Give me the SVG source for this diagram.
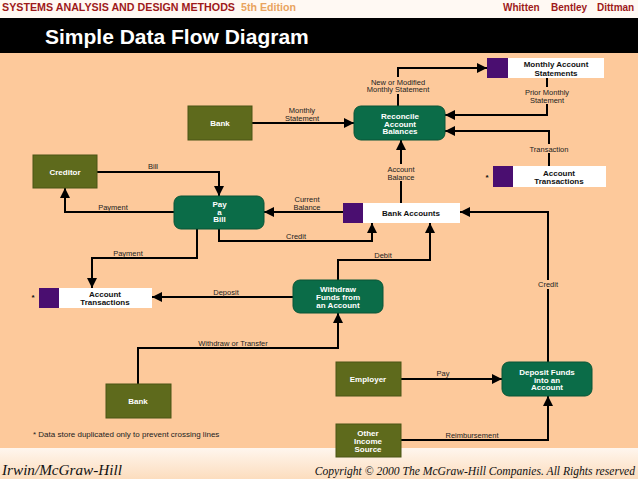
<svg xmlns="http://www.w3.org/2000/svg" width="638" height="479" viewBox="0 0 638 479">
<defs>
<linearGradient id="foot" x1="0" y1="0" x2="0" y2="1">
<stop offset="0" stop-color="#FFF6EE"/>
<stop offset="1" stop-color="#FCDDBE"/>
</linearGradient>
<marker id="ah" markerUnits="userSpaceOnUse" markerWidth="11" markerHeight="10" refX="10" refY="5" orient="auto">
<path d="M0,0 L10,5 L0,10 z" fill="#000"/>
</marker>
</defs>
<style>
.ext{fill:#5E6A1C;stroke:#4A5514;stroke-width:1}
.proc{fill:#0B6C48;stroke:#085536;stroke-width:1}
.tab{fill:#4A0E70}
.store{fill:#FFFFFF}
.nt{font-family:"Liberation Sans",Arial,sans-serif;font-size:8px;font-weight:bold;fill:#FFFFFF;text-anchor:middle}
.st{font-family:"Liberation Sans",Arial,sans-serif;font-size:8px;font-weight:bold;fill:#111;text-anchor:middle}
.lbl{font-family:"Liberation Sans",Arial,sans-serif;font-size:7.5px;fill:#222;text-anchor:middle}
.note{font-family:"Liberation Sans",Arial,sans-serif;font-size:8px;fill:#222;text-anchor:start}
.hdr{font-family:"Liberation Sans",Arial,sans-serif;font-size:10px;font-weight:bold;fill:#9E1A1A}
.ft{font-family:"Liberation Serif","Times New Roman",serif;font-style:italic;fill:#111}
.bg{fill:#FDC99B}
.conn path{fill:none;stroke:#000;stroke-width:2;marker-end:url(#ah)}
</style>
<rect x="0" y="0" width="638" height="479" fill="#FDC99B"/>
<rect x="0" y="0" width="638" height="18" fill="#FFF9F3"/>
<rect x="0" y="18" width="638" height="35" fill="#000"/>
<rect x="0" y="448" width="638" height="31" fill="url(#foot)"/>
<text class="hdr" x="2" y="11" textLength="233" lengthAdjust="spacingAndGlyphs">SYSTEMS ANALYSIS AND DESIGN METHODS</text>
<text class="hdr" x="241" y="11" style="fill:#E9A45E" textLength="55" lengthAdjust="spacingAndGlyphs">5th Edition</text>
<text class="hdr" x="503" y="11">Whitten</text>
<text class="hdr" x="551" y="11">Bentley</text>
<text class="hdr" x="597" y="11">Dittman</text>
<text x="45" y="44" font-family="Liberation Sans,Arial,sans-serif" font-size="21" font-weight="bold" fill="#FFF">Simple Data Flow Diagram</text>
<text class="ft" x="2" y="475" font-size="14" textLength="120" lengthAdjust="spacingAndGlyphs">Irwin/McGraw-Hill</text>
<text class="ft" x="635" y="475" font-size="11.6" text-anchor="end">Copyright © 2000 The McGraw-Hill Companies. All Rights reserved</text>

<g id="connectors" class="conn">
<path d="M398,106 V68 H487"/>
<path d="M252,123 H354"/>
<path d="M547,78 V115 H445"/>
<path d="M549,166 V131 H445"/>
<path d="M401,203 V140"/>
<path d="M97,172 H219 V196"/>
<path d="M174,212 H65 V188"/>
<path d="M343,212 H264"/>
<path d="M219,229 V241 H372 V223"/>
<path d="M197,229 V258 H92 V288"/>
<path d="M338,280 V260 H430 V223"/>
<path d="M293,297 H152"/>
<path d="M138,384 V348 H338 V313"/>
<path d="M548,362 V212 H460"/>
<path d="M401,379 H502"/>
<path d="M401,440 H548 V396"/>
</g>

<g id="labels">
<rect class="bg" x="364" y="77" width="68" height="17"/>
<text class="lbl" x="398" y="84.5">New or Modified</text>
<text class="lbl" x="398" y="92">Monthly Statement</text>
<text class="lbl" x="302" y="112.5">Monthly</text>
<text class="lbl" x="302" y="120.5">Statement</text>
<rect class="bg" x="518" y="87" width="58" height="17"/>
<text class="lbl" x="547" y="94.5">Prior Monthly</text>
<text class="lbl" x="547" y="102.5">Statement</text>
<rect class="bg" x="526" y="144" width="46" height="9"/>
<text class="lbl" x="549" y="151.5">Transaction</text>
<rect class="bg" x="384" y="164" width="34" height="17"/>
<text class="lbl" x="401" y="171.5">Account</text>
<text class="lbl" x="401" y="179.5">Balance</text>
<text class="lbl" x="153" y="168.5">Bill</text>
<text class="lbl" x="113" y="210">Payment</text>
<text class="lbl" x="307" y="201.5">Current</text>
<text class="lbl" x="307" y="209.5">Balance</text>
<text class="lbl" x="296" y="239">Credit</text>
<text class="lbl" x="128" y="256">Payment</text>
<text class="lbl" x="383" y="258">Debit</text>
<text class="lbl" x="226" y="294.5">Deposit</text>
<text class="lbl" x="233" y="345.5">Withdraw or Transfer</text>
<rect class="bg" x="532" y="280" width="32" height="9"/>
<text class="lbl" x="548" y="287">Credit</text>
<text class="lbl" x="443" y="376">Pay</text>
<text class="lbl" x="472" y="438">Reimbursement</text>
<text class="note" x="33" y="437">* Data store duplicated only to prevent crossing lines</text>
</g>

<g id="monthly-account-statements">
<rect class="tab" x="487" y="58" width="21" height="20"/>
<rect class="store" x="508" y="58" width="96" height="20"/>
<text class="st" x="556" y="67">Monthly Account</text>
<text class="st" x="556" y="75.5">Statements</text>
</g>
<g id="bank-top">
<rect class="ext" x="188" y="106" width="64" height="34"/>
<text class="nt" x="220" y="126">Bank</text>
</g>
<g id="reconcile">
<rect class="proc" x="354" y="106" width="91" height="34" rx="7"/>
<text class="nt" x="400" y="119">Reconcile</text>
<text class="nt" x="400" y="126.5">Account</text>
<text class="nt" x="400" y="134">Balances</text>
</g>
<g id="account-transactions-top">
<text class="st" x="487" y="180">*</text>
<rect class="tab" x="493" y="166" width="20" height="21"/>
<rect class="store" x="513" y="166" width="93" height="21"/>
<text class="st" x="559" y="175.5">Account</text>
<text class="st" x="559" y="184">Transactions</text>
</g>
<g id="creditor">
<rect class="ext" x="33" y="155" width="64" height="33"/>
<text class="nt" x="65" y="175">Creditor</text>
</g>
<g id="pay-a-bill">
<rect class="proc" x="174" y="196" width="90" height="33" rx="7"/>
<text class="nt" x="219.5" y="207">Pay</text>
<text class="nt" x="219.5" y="214.5">a</text>
<text class="nt" x="219.5" y="222">Bill</text>
</g>
<g id="bank-accounts">
<rect class="tab" x="343" y="203" width="20" height="20"/>
<rect class="store" x="363" y="203" width="97" height="20"/>
<text class="st" x="411" y="216">Bank Accounts</text>
</g>
<g id="account-transactions-left">
<text class="st" x="33" y="300">*</text>
<rect class="tab" x="39" y="288" width="20" height="20"/>
<rect class="store" x="59" y="288" width="93" height="20"/>
<text class="st" x="105" y="296.5">Account</text>
<text class="st" x="105" y="305">Transactions</text>
</g>
<g id="withdraw-funds">
<rect class="proc" x="293" y="280" width="90" height="33" rx="7"/>
<text class="nt" x="338" y="292">Withdraw</text>
<text class="nt" x="338" y="300">Funds from</text>
<text class="nt" x="338" y="307.5">an Account</text>
</g>
<g id="bank-bottom">
<rect class="ext" x="106" y="384" width="65" height="34"/>
<text class="nt" x="138" y="404">Bank</text>
</g>
<g id="employer">
<rect class="ext" x="336" y="362" width="65" height="34"/>
<text class="nt" x="368" y="382">Employer</text>
</g>
<g id="deposit-funds">
<rect class="proc" x="502" y="362" width="90" height="34" rx="7"/>
<text class="nt" x="547" y="375">Deposit Funds</text>
<text class="nt" x="547" y="382.5">into an</text>
<text class="nt" x="547" y="390">Account</text>
</g>
<g id="other-income-source">
<rect class="ext" x="336" y="424" width="65" height="33"/>
<text class="nt" x="368" y="436">Other</text>
<text class="nt" x="368" y="444">Income</text>
<text class="nt" x="368" y="452">Source</text>
</g>
</svg>
